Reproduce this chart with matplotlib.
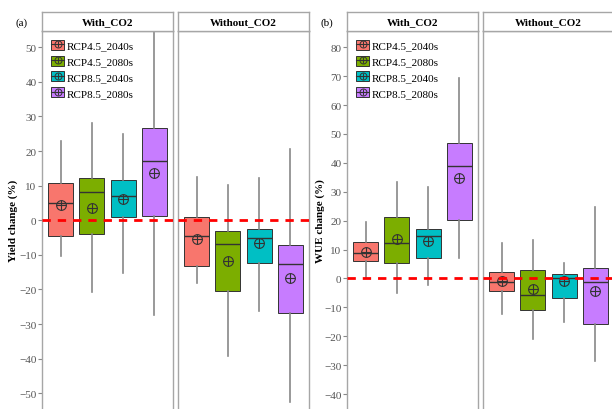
import matplotlib
matplotlib.use("Agg")
import matplotlib.pyplot as plt
from matplotlib.patches import Patch
from matplotlib.lines import Line2D
from matplotlib.legend_handler import HandlerTuple

plt.rcParams['font.family'] = ['Liberation Serif', 'DejaVu Serif']

groups = ['RCP4.5_2040s', 'RCP4.5_2080s', 'RCP8.5_2040s', 'RCP8.5_2080s']
facets = ['With_CO2', 'Without_CO2']
colors = ['#F8766D', '#7CAE00', '#00BFC4', '#C77CFF']

# each row: whisker low, Q1, median, Q3, whisker high, mean
yield_with = [
    [-10.2, -4.4, 4.9, 10.7, 23.0, 4.4],
    [-20.8, -4.0, 8.1, 12.3, 28.0, 3.5],
    [-15.3, 0.9, 7.1, 11.6, 24.9, 6.2],
    [-27.4, 1.3, 17.2, 26.6, 60.0, 13.7],
]
yield_without = [
    [-18.0, -13.3, -4.5, 0.9, 12.6, -5.4],
    [-39.3, -20.3, -6.9, -3.2, 10.2, -11.8],
    [-26.1, -12.4, -5.2, -2.5, 12.2, -6.6],
    [-52.6, -26.8, -12.5, -7.0, 20.6, -16.6],
]
wue_with = [
    [0.3, 6.1, 8.8, 12.7, 19.4, 9.0],
    [-5.1, 5.2, 12.1, 21.1, 33.4, 13.6],
    [-2.3, 7.0, 14.6, 17.0, 31.5, 13.0],
    [7.0, 20.2, 38.8, 46.9, 69.3, 34.7],
]
wue_without = [
    [-12.2, -4.2, -1.2, 2.3, 12.1, -0.9],
    [-20.8, -10.9, -5.8, 2.8, 13.3, -3.7],
    [-14.9, -6.6, 0.2, 1.7, 5.3, -0.8],
    [-28.6, -15.6, -1.3, 3.5, 24.8, -4.3],
]
yield_ticks = list(range(-50, 51, 10))
wue_ticks = list(range(-40, 81, 10))

W, H = 612, 410
fig = plt.figure(figsize=(W / 100, H / 100), dpi=100)


def rect(x0, x1, y0, y1):
    # pixel box (from top-left) -> figure fraction
    return [x0 / W, 1 - y1 / H, (x1 - x0) / W, (y1 - y0) / H]


def draw_facet(ax, rows, ylim, ticks, show_ticks):
    stats = [dict(whislo=r[0], q1=r[1], med=r[2], q3=r[3], whishi=r[4]) for r in rows]
    pos = list(range(1, len(rows) + 1))
    bp = ax.bxp(stats, positions=pos, widths=0.8, patch_artist=True,
                showcaps=False, showfliers=False,
                boxprops=dict(edgecolor='#333333', linewidth=0.7),
                medianprops=dict(color='#333333', linewidth=1.0),
                whiskerprops=dict(color='#888888', linewidth=1.2))
    for patch, c in zip(bp['boxes'], colors):
        patch.set_facecolor(c)
    means = [r[5] for r in rows]
    ax.plot(pos, means, 'o', mfc='none', mec='#333333', mew=0.8, ms=7, zorder=4)
    ax.plot(pos, means, '+', color='#333333', mew=0.8, ms=7, zorder=4)
    ax.axhline(0, color='#FF0000', lw=2, ls=(0, (3, 2.5)), zorder=5)
    ax.set_xlim(0.4, 4.6)
    ax.set_ylim(*ylim)
    ax.set_xticks([])
    ax.set_yticks(ticks)
    for s in ax.spines.values():
        s.set_color('#a6a6a6')
        s.set_linewidth(1)
    if show_ticks:
        ax.tick_params(axis='y', length=3, color='#888888', labelsize=8,
                       labelcolor='#555555', pad=1)
    else:
        ax.tick_params(axis='y', length=0, labelleft=False)


def strip(x0, x1, label):
    sa = fig.add_axes(rect(x0, x1, 13, 32))
    sa.set_xticks([])
    sa.set_yticks([])
    for s in sa.spines.values():
        s.set_color('#a6a6a6')
        s.set_linewidth(1)
    sa.text(0.5, 0.5, label, ha='center', va='center', fontsize=8,
            fontweight='bold', transform=sa.transAxes)


def legend(ax):
    handles = []
    for c in colors:
        handles.append((Patch(facecolor=c, edgecolor='#333333', linewidth=0.7),
                        Line2D([], [], color='#333333', lw=0.8),
                        Line2D([], [], marker='o', mfc='none', mec='#333333', ls='none', ms=5, mew=0.7),
                        Line2D([], [], marker='+', color='#333333', ls='none', ms=5, mew=0.7)))
    ax.legend(handles, groups, handler_map={tuple: HandlerTuple(ndivide=1)},
              loc='upper left', frameon=False, fontsize=8, handlelength=1.2,
              handleheight=1.0, handletextpad=0.2, labelspacing=0.45,
              borderaxespad=0.4, borderpad=0.4)


panels = [
    ('(a)', 42, 'Yield change (%)', (-55, 54.7), yield_ticks, [yield_with, yield_without], 13, 22),
    ('(b)', 347, 'WUE change (%)', (-45.7, 85.6), wue_ticks, [wue_with, wue_without], 320, 327),
]
for tag, x0, ylab, ylim, ticks, data, ylab_x, tag_x in panels:
    for i, rows in enumerate(data):
        fx0 = x0 + i * 136
        ax = fig.add_axes(rect(fx0, fx0 + 131, 32, 411.6))
        draw_facet(ax, rows, ylim, ticks, show_ticks=(i == 0))
        strip(fx0, fx0 + 131, facets[i])
        if i == 0:
            legend(ax)
    fig.text(ylab_x / W, 1 - 221 / H, ylab, rotation=90, ha='center', va='center',
             fontsize=8, fontweight='bold')
    fig.text(tag_x / W, 1 - 23 / H, tag, ha='center', va='center', fontsize=8)

fig.savefig('out.png', dpi=100)
